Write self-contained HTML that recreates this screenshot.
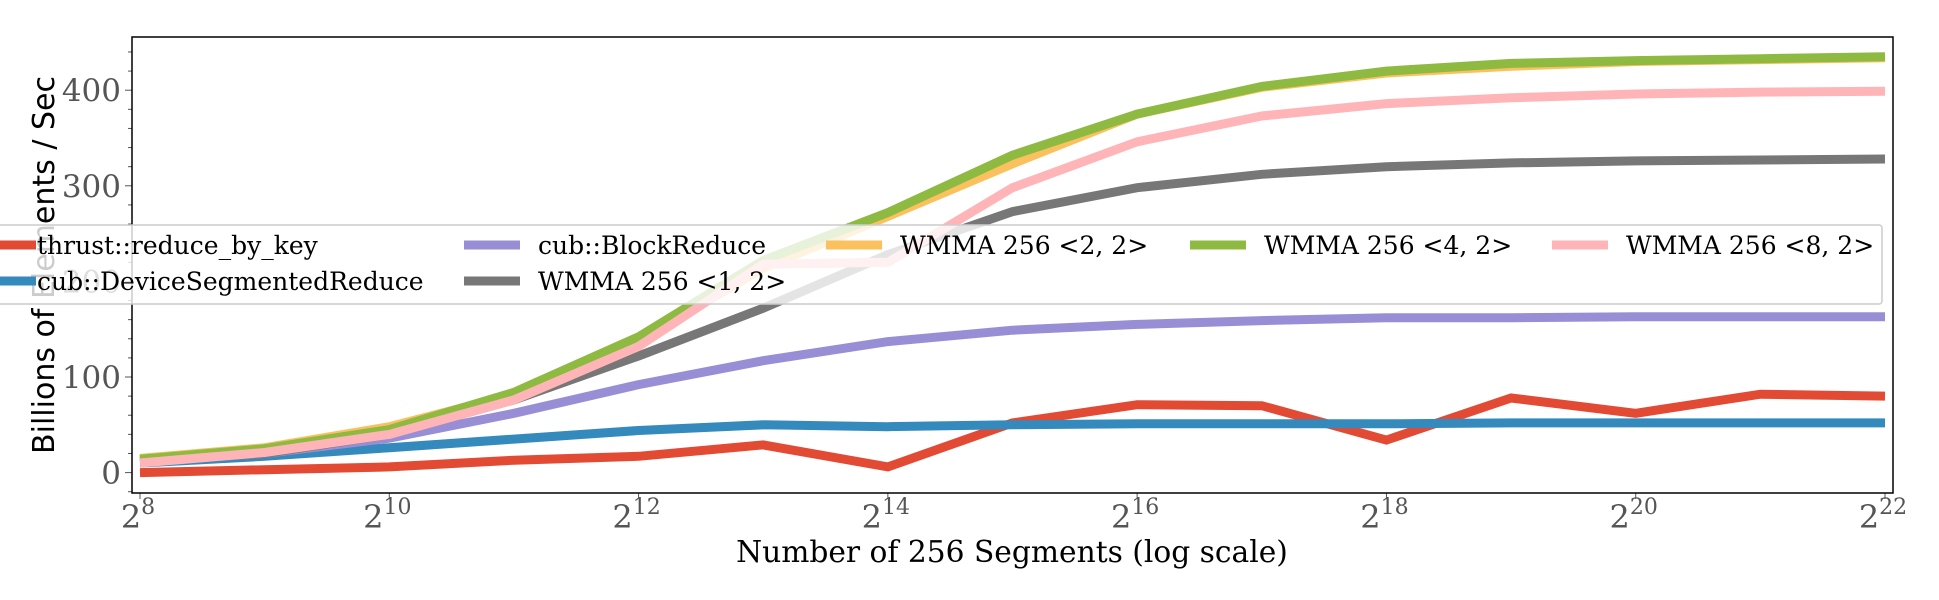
<!DOCTYPE html>
<html><head><meta charset="utf-8"><style>
html,body{margin:0;padding:0;background:#fff;}
svg{display:block;}
</style></head><body>
<svg id="chart" width="1939" height="600" xmlns="http://www.w3.org/2000/svg">
<rect width="1939" height="600" fill="#fff"/>
<clipPath id="clip"><rect x="132" y="37" width="1761" height="456"/></clipPath>
<g id="ticks"></g>
<g id="lines" clip-path="url(#clip)"></g>
<rect x="132" y="37" width="1761" height="456" fill="none" stroke="#000" stroke-width="1.5"/>
<text x="0" y="0" transform="translate(54,265) rotate(-90)" text-anchor="middle" font-family="'DejaVu Sans','Liberation Sans',sans-serif" font-size="30" fill="#000">Billions of Elements / Sec</text>
<text x="1012" y="562" text-anchor="middle" font-family="'DejaVu Serif','Liberation Serif',serif" font-size="29.7" fill="#000">Number of 256 Segments (log scale)</text>
<g id="legend"></g>
</svg>
<script>
const exponents = [8,9,10,11,12,13,14,15,16,17,18,19,20,21,22];
const seriesNames = ["thrust::reduce_by_key","cub::DeviceSegmentedReduce","cub::BlockReduce","WMMA 256 <1, 2>","WMMA 256 <2, 2>","WMMA 256 <4, 2>","WMMA 256 <8, 2>"];
const thrustVals = [0,3,6,13,17,29,6,52,71,70,34,78,62,82,80];
const deviceSegVals = [10,17,26,35,44,50,48,50,51,51,51,52,52,52,52];
const blockReduceVals = [12,20,36,62,92,117,137,149,155,159,162,162,163,163,163];
const wmma12Vals = [12,20,40,76,122,172,228,273,298,312,320,324,326,327,328];
const wmma22Vals = [15,26,48,82,137,214,268,323,375,403,418,425,430,432,434];
const wmma42Vals = [14,25,45,84,142,222,272,332,375,404,420,428,431,433,435];
const wmma82Vals = [10,21,40,76,132,218,220,298,346,373,386,392,396,398,399];
const yTicks = [0,100,200,300,400];
const xTickExps = [8,10,12,14,16,18,20,22];

const colors = ["#E24A33","#348ABD","#988ED5","#777777","#FBC15E","#8EBA42","#FFB5B8"];
const allVals = [thrustVals,deviceSegVals,blockReduceVals,wmma12Vals,wmma22Vals,wmma42Vals,wmma82Vals];
const NS = "http://www.w3.org/2000/svg";
function xs(e){ return 140 + (e-8)*(1885-140)/14; }
function ys(v){ return 472.6 - v*0.956; }
function mk(tag, attrs, parent){ const el=document.createElementNS(NS,tag); for(const k in attrs) el.setAttribute(k,attrs[k]); parent.appendChild(el); return el; }

const tg = document.getElementById('ticks');
for(let v=-20; v<=440; v+=20){
  const major = yTicks.includes(v);
  const t = mk('line',{x1:132,x2:major?125:128,y1:ys(v),y2:ys(v),stroke:'#555','stroke-width':1},tg);
  
  
}
yTicks.forEach(v=>{
  const t = mk('text',{x:121,y:ys(v)+11,'text-anchor':'end','font-family':"'DejaVu Serif','Liberation Serif',serif",'font-size':31,fill:'#555'},tg);
  t.textContent = v;
  
  
});
xTickExps.forEach(e=>{
  const l = mk('line',{x1:xs(e),x2:xs(e),y1:493,y2:499,stroke:'#555','stroke-width':1},tg);
  
  
  const t = mk('text',{x:xs(e)-2,y:528,'text-anchor':'middle','font-family':"'DejaVu Serif','Liberation Serif',serif",'font-size':32,fill:'#555'},tg);
  
  
  const b = mk('tspan',{},t); b.textContent='2';
  const s = mk('tspan',{dy:-14,'font-size':22},t); s.textContent=String(e);
});

const lg = document.getElementById('lines');
allVals.forEach((vals,i)=>{
  const pts = vals.map((v,j)=>xs(exponents[j]).toFixed(1)+','+ys(v).toFixed(1)).join(' ');
  const p = mk('polyline',{points:pts,fill:'none',stroke:colors[i],'stroke-width':9,'stroke-linejoin':'miter'},lg);
  
  
});

const leg = document.getElementById('legend');
const box = mk('rect',{x:-10,y:225,width:1892,height:79,fill:'#fff','fill-opacity':0.8,stroke:'#ccc','stroke-width':1.5,rx:3},leg);


const handleX = [-20,464,826,1190,1552];
const textX = [37,538,900,1264,1626];
const colOf = [0,0,1,1,2,3,4];
const rowOf = [0,1,0,1,0,0,0];
const rowY = [245,281];
seriesNames.forEach((n,i)=>{
  const col = colOf[i], row = rowOf[i];
  const g = mk('g',{},leg);
  
  
  mk('line',{x1:handleX[col],x2:handleX[col]+56,y1:rowY[row],y2:rowY[row],stroke:colors[i],'stroke-width':9},g);
  const t = mk('text',{x:textX[col],y:rowY[row]+9,'font-family':"'DejaVu Serif','Liberation Serif',serif",'font-size':25,fill:'#000'},g);
  t.textContent = n;
});
</script>
</body></html>
